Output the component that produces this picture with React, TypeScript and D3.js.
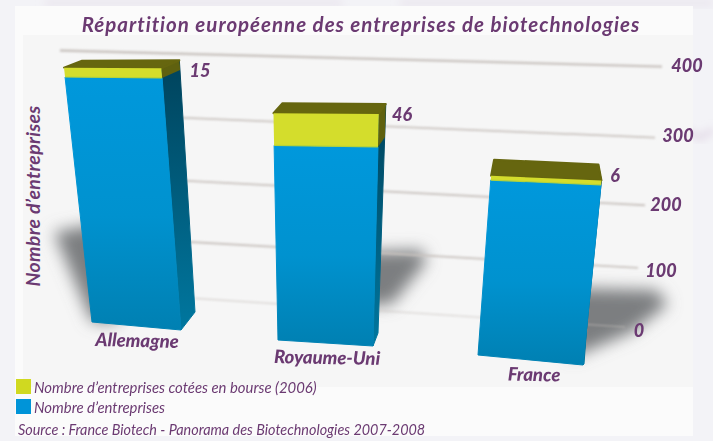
import React from "react";
import * as d3 from "d3";

const categories = ["Allemagne", "Royaume-Uni", "France"];
const listedCompanies = [15, 46, 6];
const otherCompanies = [392, 278, 244];
const gridValues = [0, 100, 200, 300, 400];
const titleText = "Répartition européenne des entreprises de biotechnologies";
const yAxisTitle = "Nombre d’entreprises";
const legendLabels = ["Nombre d’entreprises cotées en bourse (2006)", "Nombre d’entreprises"];
const sourceText = "Source : France Biotech - Panorama des Biotechnologies 2007-2008";

const W = 713, H = 441;
const PURPLE = "#6b3a72";
const FONT = "Lato, 'Open Sans', sans-serif";

// Perspective frame of the chart
const GRID_X0 = 190, GRID_X1 = 640;
const gridLeft = d3.scaleLinear().domain(gridValues).range([298, 242, 181, 118, 54]);
const gridRight = d3.scaleLinear().domain(gridValues).range([328, 268, 205, 137, 66]);
const gridEnd = d3.scaleLinear().domain(gridValues).range([625, 638, 645, 655, 662]);
const gridStart = d3.scaleLinear().domain(gridValues).range([195, 190, 150, 150, 60]);
const tickX = d3.scaleLinear().domain(gridValues).range([639, 661, 666, 678, 687]);
const tickY = d3.scaleLinear().domain(gridValues).range([337, 277, 211, 142, 72]);
const gridY = (v: number, x: number) =>
  d3.scaleLinear().domain([GRID_X0, GRID_X1]).range([gridLeft(v), gridRight(v)])(x);

// Geometry of each bar in the perspective view
const barFrames = [
  { bl: [92, 322], br: [181, 330], leanL: -0.11, leanR: -0.075, unitL: 0.625, unitR: 0.643, dTop: [18, -7], dBack: [18, -8], dBase: [14, -18], lab: [137, 347, 1.5], num: [200, 77] },
  { bl: [278, 340], br: [373, 346], leanL: -0.02, leanR: 0.025, unitL: 0.7, unitR: 0.716, dTop: [9, -10], dBack: [7, -10], dBase: [5, -13], lab: [327, 364, 1], num: [402, 121] },
  { bl: [478, 355], br: [583, 365], leanL: 0.073, leanR: 0.1, unitL: 0.717, unitR: 0.738, dTop: [3, -16], dBack: [-3, -16], dBase: [1, -1], lab: [534, 381, 1], num: [615, 182] },
];

const poly = d3.line<number[]>().x((d) => d[0]).y((d) => d[1]).curve(d3.curveLinearClosed);

function Bar({ i }: { i: number }) {
  const f = barFrames[i];
  const pt = (side: "l" | "r", v: number) => {
    const b = side === "l" ? f.bl : f.br;
    const lean = side === "l" ? f.leanL : f.leanR;
    const h = d3.scaleLinear().domain([0, 100]).range([0, 100 * (side === "l" ? f.unitL : f.unitR)]);
    const px = h(v);
    return [b[0] + lean * px, b[1] - px];
  };
  const blue = otherCompanies[i];
  const total = blue + listedCompanies[i];
  const tl = pt("l", total), tr = pt("r", total);
  const ml = pt("l", blue), mr = pt("r", blue);
  const topFace = [tl, [tl[0] + f.dTop[0], tl[1] + f.dTop[1]], [tr[0] + f.dBack[0], tr[1] + f.dBack[1]], tr];
  const sideFace = [tr, [tr[0] + f.dBack[0], tr[1] + f.dBack[1]], [f.br[0] + f.dBase[0], f.br[1] + f.dBase[1]], f.br];
  const sideYellow = [tr, [tr[0] + f.dBack[0], tr[1] + f.dBack[1]], [mr[0] + f.dBack[0], mr[1] + f.dBack[1]], mr];
  return (
    <g>
      <path d={poly(sideFace)!} fill="url(#side)" stroke="url(#side)" strokeWidth={1} strokeLinejoin="round" />
      <path d={poly(sideYellow)!} fill="#5f610f" />
      <path d={poly(topFace)!} fill="#66660f" stroke="#66660f" strokeWidth={2} strokeLinejoin="round" />
      <path d={poly([ml, mr, f.br, f.bl])!} fill="url(#blue)" stroke="url(#blue)" strokeWidth={1} strokeLinejoin="round" />
      <path d={poly([tl, tr, mr, ml])!} fill="#d4dd2c" />
      <path d={d3.line()([ml as [number, number], mr as [number, number]])!} stroke="#b5d23a" strokeWidth={1.2} />
    </g>
  );
}

export default function App() {
  const labelStyle = { fontFamily: FONT, fontWeight: 900, fontStyle: "italic", fill: PURPLE } as const;
  const noteStyle = { fontFamily: FONT, fontWeight: 400, fontStyle: "italic", fill: PURPLE } as const;
  return (
    <svg width={W} height={H} viewBox={`0 0 ${W} ${H}`} style={{ position: "absolute", left: 0, top: 0 }}>
      <defs>
        <filter id="soft" x="-60%" y="-60%" width="220%" height="220%"><feGaussianBlur stdDeviation="8" /></filter>
        <filter id="line" x="-5%" y="-300%" width="110%" height="700%"><feGaussianBlur stdDeviation="0.8" /></filter>
        <filter id="deco" x="-40%" y="-40%" width="180%" height="180%"><feGaussianBlur stdDeviation="4" /></filter>
        <linearGradient id="blue" gradientUnits="objectBoundingBox" x1="0" y1="0" x2="0" y2="1">
          <stop offset="0" stopColor="#0098dc" />
          <stop offset="0.55" stopColor="#0092cf" />
          <stop offset="1" stopColor="#0080b2" />
        </linearGradient>
        <linearGradient id="side" x1="0" y1="0" x2="0" y2="1">
          <stop offset="0" stopColor="#00435c" />
          <stop offset="1" stopColor="#00779f" />
        </linearGradient>
      </defs>

      <rect width={W} height={H} fill="#f3f3f7" />
      <path d="M675,125 L700,138 L713,130" fill="none" stroke="#dccfe0" strokeWidth={4} filter="url(#deco)" />
      <path d="M45,0 L340,0 L345,6 L45,6 Z M400,0 L713,0 L713,6 L400,6 Z" fill="#e8e3ec" filter="url(#deco)" />
      <rect x={15} y={6} width={678} height={430} fill="#fbfbfb" />
      <rect x={23} y={35} width={670} height={352} fill="#f6f6f6" />

      <g fill="#7c7e80">
        <path d="M54,232 L110,222 L120,322 L92,322 Z" filter="url(#soft)" />
        <path d="M360,252 L422,250 L426,262 L392,304 L360,306 Z" filter="url(#soft)" />
        <path d="M570,288 L656,290 L668,304 L632,332 L570,358 Z" filter="url(#soft)" />
      </g>

      <g filter="url(#line)">
        {gridValues.map((v) => (
          <line key={v} x1={gridStart(v)} x2={gridEnd(v)} y1={gridY(v, gridStart(v))} y2={gridY(v, gridEnd(v))}
            stroke="#c9c3bf" strokeWidth={v === 400 ? 2.4 : v === 0 ? 1.2 : 1.8} opacity={v === 0 ? 0.7 : 1} />
        ))}
      </g>

      {categories.map((c, i) => <Bar key={c} i={i} />)}

      <text x={361} y={32} textAnchor="middle" style={{ ...labelStyle, fontWeight: 700, fontSize: 20.5, letterSpacing: 0.98 }}>{titleText}</text>
      <text transform="translate(40,196) rotate(-90)" textAnchor="middle" style={{ ...labelStyle, fontWeight: 700, fontSize: 19.5, letterSpacing: 0.3 }}>{yAxisTitle}</text>

      {gridValues.map((v) => (
        <text key={v} x={tickX(v)} y={tickY(v)} textAnchor="middle" style={{ ...labelStyle, fontSize: 18 }}>{v}</text>
      ))}
      {categories.map((c, i) => {
        const f = barFrames[i];
        return (
          <g key={c}>
            <text transform={`translate(${f.lab[0]},${f.lab[1]}) rotate(${f.lab[2]})`} textAnchor="middle" style={{ ...labelStyle, fontSize: 18.5 }}>{c}</text>
            <text x={f.num[0]} y={f.num[1]} textAnchor="middle" style={{ ...labelStyle, fontSize: 18 }}>{listedCompanies[i]}</text>
          </g>
        );
      })}

      <rect x={16} y={379} width={15} height={15} fill="#d0d920" />
      <rect x={16} y={399} width={15} height={15} fill="#0094d8" />
      <text x={34} y={393} style={{ ...noteStyle, fontSize: 14.9 }}>{legendLabels[0]}</text>
      <text x={34} y={413} style={{ ...noteStyle, fontSize: 14.9 }}>{legendLabels[1]}</text>
      <text x={18} y={435} style={{ ...noteStyle, fontSize: 14.4 }}>{sourceText}</text>
    </svg>
  );
}
